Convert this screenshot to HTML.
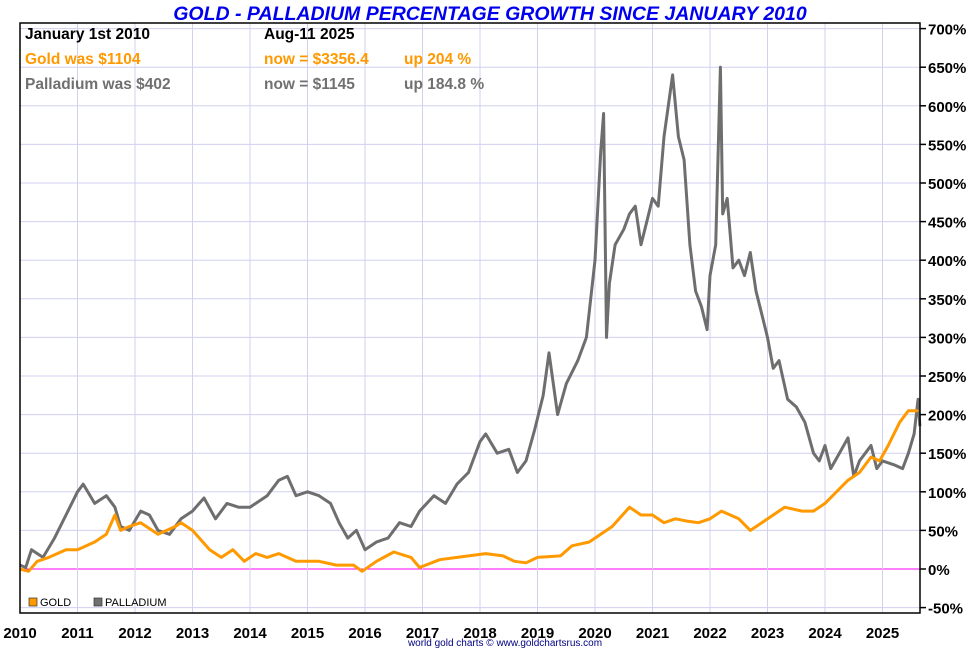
<!DOCTYPE html>
<html><head><meta charset="utf-8"><style>
body{margin:0;background:#fff;width:980px;height:650px;overflow:hidden;font-family:"Liberation Sans",sans-serif}
svg text{font-family:"Liberation Sans",sans-serif}
</style></head><body>
<svg id="chart" width="980" height="650" xmlns="http://www.w3.org/2000/svg">
<text x="490" y="20" text-anchor="middle" fill="#0000ee" font-size="19.5" font-weight="bold" font-style="italic">GOLD - PALLADIUM PERCENTAGE GROWTH SINCE JANUARY 2010</text>
<g id="grid"></g>
<g id="series"></g>
<rect x="20" y="23" width="900" height="590" fill="none" stroke="#000" stroke-width="1.5"/>
<g id="axes"></g>
<g font-size="15.5" font-weight="bold">
<text x="25" y="39" fill="#000">January 1st 2010</text>
<text x="264" y="39" fill="#000">Aug-11  2025</text>
<text x="25" y="64" fill="#ff9900">Gold was $1104</text>
<text x="264" y="64" fill="#ff9900">now = $3356.4</text>
<text x="404" y="64" fill="#ff9900">up 204 %</text>
<text x="25" y="89" fill="#707070">Palladium was $402</text>
<text x="264" y="89" fill="#707070">now = $1145</text>
<text x="404" y="89" fill="#707070">up 184.8 %</text>
</g>
<g font-size="11">
<rect x="29" y="598" width="8" height="8" fill="#ff9900" stroke="#333" stroke-width="0.7"/>
<text x="40" y="606">GOLD</text>
<rect x="94" y="598" width="8" height="8" fill="#707070" stroke="#333" stroke-width="0.7"/>
<text x="105" y="606">PALLADIUM</text>
</g>
<text x="505" y="646" text-anchor="middle" font-size="10" fill="#000080">world gold charts © www.goldchartsrus.com</text>
</svg>
<script>
const yTicks=[-50,0,50,100,150,200,250,300,350,400,450,500,550,600,650,700];
const xYears=[2010,2011,2012,2013,2014,2015,2016,2017,2018,2019,2020,2021,2022,2023,2024,2025];
const palladiumT=[2010.0,2010.1,2010.2,2010.4,2010.6,2010.8,2011.0,2011.1,2011.3,2011.5,2011.65,2011.75,2011.9,2012.1,2012.25,2012.4,2012.6,2012.8,2013.0,2013.2,2013.4,2013.6,2013.8,2014.0,2014.3,2014.5,2014.65,2014.8,2015.0,2015.2,2015.4,2015.55,2015.7,2015.85,2016.0,2016.2,2016.4,2016.6,2016.8,2016.95,2017.2,2017.4,2017.6,2017.8,2018.0,2018.1,2018.3,2018.5,2018.65,2018.8,2018.95,2019.1,2019.2,2019.35,2019.5,2019.7,2019.85,2020.0,2020.1,2020.15,2020.2,2020.25,2020.35,2020.5,2020.6,2020.7,2020.8,2020.9,2021.0,2021.1,2021.2,2021.35,2021.45,2021.55,2021.65,2021.75,2021.85,2021.95,2022.0,2022.1,2022.18,2022.22,2022.3,2022.4,2022.5,2022.6,2022.7,2022.8,2022.9,2023.0,2023.1,2023.2,2023.35,2023.5,2023.65,2023.8,2023.9,2024.0,2024.1,2024.25,2024.4,2024.5,2024.6,2024.7,2024.8,2024.9,2025.0,2025.2,2025.35,2025.45,2025.55,2025.62,2025.65];
const palladiumV=[5,2,25,15,40,70,100,110,85,95,80,55,50,75,70,50,45,65,75,92,65,85,80,80,95,115,120,95,100,95,85,60,40,50,25,35,40,60,55,75,95,85,110,125,165,175,150,155,125,140,180,225,280,200,240,270,300,400,540,590,300,370,420,440,460,470,420,450,480,470,560,640,560,530,420,360,340,310,380,420,650,460,480,390,400,380,410,360,330,300,260,270,220,210,190,150,140,160,130,150,170,120,140,150,160,130,140,135,130,150,175,220,185];
const goldT=[2010.0,2010.15,2010.3,2010.5,2010.8,2011.0,2011.3,2011.5,2011.65,2011.75,2011.9,2012.1,2012.4,2012.7,2012.8,2013.0,2013.3,2013.5,2013.7,2013.9,2014.1,2014.3,2014.5,2014.8,2015.0,2015.2,2015.5,2015.8,2015.95,2016.2,2016.5,2016.8,2016.95,2017.3,2017.6,2017.9,2018.1,2018.4,2018.6,2018.8,2019.0,2019.4,2019.6,2019.9,2020.1,2020.3,2020.6,2020.8,2021.0,2021.2,2021.4,2021.6,2021.8,2022.0,2022.2,2022.5,2022.7,2022.9,2023.1,2023.3,2023.6,2023.8,2024.0,2024.2,2024.4,2024.6,2024.8,2024.95,2025.1,2025.3,2025.45,2025.6,2025.62];
const goldV=[0,-3,10,15,25,25,35,45,70,50,55,60,45,55,60,50,25,15,25,10,20,15,20,10,10,10,5,5,-3,10,22,15,2,12,15,18,20,17,10,8,15,17,30,35,45,55,80,70,70,60,65,62,60,65,75,65,50,60,70,80,75,75,85,100,115,125,145,140,160,190,205,205,204];
const NS='http://www.w3.org/2000/svg';
const xS=t=>20+(t-2010)*57.5;
const yS=v=>569-v*38.6/50;
const grid=document.getElementById('grid'),axes=document.getElementById('axes'),series=document.getElementById('series');
function mk(tag,attrs,parent){const e=document.createElementNS(NS,tag);for(const k in attrs)e.setAttribute(k,attrs[k]);parent.appendChild(e);return e;}
yTicks.forEach(v=>{
  const l=mk('line',{x1:20,x2:920,y1:yS(v),y2:yS(v),stroke:v===0?'#ff00ff':'#d0d0f0','stroke-width':1},grid);
  
  
  const t=mk('line',{x1:920,x2:926,y1:yS(v),y2:yS(v),stroke:'#000','stroke-width':1.5},axes);
  
  
  const tx=mk('text',{x:928,y:yS(v)+6,'font-size':15,'font-weight':'bold'},axes);
  tx.textContent=v+'%';
  
  
});
xYears.forEach(y=>{
  const l=mk('line',{x1:xS(y),x2:xS(y),y1:23,y2:613,stroke:'#d0d0f0','stroke-width':1},grid);
  
  
  const tx=mk('text',{x:xS(y),y:638,'font-size':15,'font-weight':'bold','text-anchor':'middle'},axes);
  tx.textContent=y;
  
  
});
function line(T,V,color,name){
  const d=T.map((t,i)=>(i?'L':'M')+xS(t).toFixed(1)+','+yS(V[i]).toFixed(1)).join('');
  const p=mk('path',{d:d,fill:'none',stroke:color,'stroke-width':3,'stroke-linejoin':'round'},series);
  
  
}
line(palladiumT,palladiumV,'#6e6e6e','palladium-line');
line(goldT,goldV,'#ff9900','gold-line');
</script>
</body></html>
